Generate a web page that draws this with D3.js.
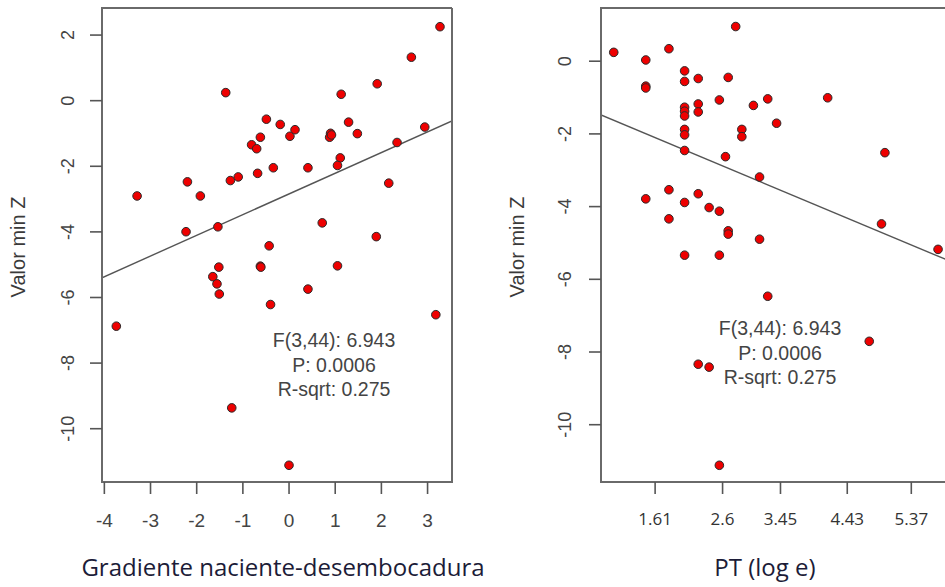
<!DOCTYPE html>
<html>
<head>
  <meta charset="utf-8">
  <title>Valor min Z</title>
  <script type="text/javascript" src="https://cdn.jsdelivr.net/npm/d3@7/dist/d3.min.js"></script>
  <style>
    body { margin: 0; background: #fff; }
  </style>
</head>
<body>
  <svg id="chart"></svg>
  <script>
    // data

    // left: gradiente naciente-desembocadura vs valor min Z
    var gradX = [-3.28, -2.19, -2.22, -1.91, -1.36, -1.53, -1.26, -1.09, -1.51, -1.64,
                 -1.55, -1.50, -0.80, -0.69, -0.61, -0.67, -0.48, -0.33, -0.18, 0.03,
                 0.14, 0.42, -0.61, -0.60, -0.42, 0.42, 0.73, 0.91, 0.89, 0.93,
                 1.14, 1.30, 1.49, 1.12, 1.06, 1.06, 1.92, 1.90, 2.17, 2.35,
                 2.66, 2.95, 3.28, -0.39, -3.73, -1.23, 0.01, 3.19];
    var gradZ = [-2.92, -2.49, -4.01, -2.92, 0.23, -3.86, -2.45, -2.34, -5.09, -5.38,
                 -5.60, -5.91, -1.36, -1.48, -1.13, -2.23, -0.58, -2.06, -0.74, -1.10,
                 -0.90, -2.06, -5.06, -5.09, -4.44, -5.76, -3.74, -1.01, -1.13, -1.06,
                 0.18, -0.67, -1.02, -1.76, -1.99, -5.05, 0.50, -4.16, -2.53, -1.29,
                 1.31, -0.82, 2.24, -6.23, -6.89, -9.38, -11.13, -6.54];
    var gradFit = { intercept: -2.865, slope: 0.631 };

    // right: PT (log e) vs valor min Z
    var ptX = [1.01, 1.48, 1.48, 1.48, 1.82, 2.05, 2.05, 2.25, 2.69, 2.80,
               2.05, 2.05, 2.05, 2.25, 2.25, 2.56, 3.06, 3.27, 4.15, 3.40,
               2.05, 2.05, 2.89, 2.89, 2.05, 2.65, 3.15, 4.99, 1.48, 1.82,
               1.82, 2.05, 2.25, 2.41, 2.56, 2.69, 2.69, 3.15, 2.05, 2.56,
               4.94, 5.77, 3.27, 4.76, 2.25, 2.41, 2.56];
    var ptZ = [0.23, 0.02, -0.70, -0.75, 0.33, -0.28, -0.57, -0.49, -0.46, 0.94,
               -1.28, -1.39, -1.52, -1.19, -1.41, -1.08, -1.23, -1.05, -1.02, -1.72,
               -1.89, -2.04, -1.89, -2.09, -2.47, -2.64, -3.20, -2.53, -3.80, -3.55,
               -4.35, -3.90, -3.66, -4.04, -4.14, -4.68, -4.77, -4.91, -5.35, -5.35,
               -4.49, -5.19, -6.48, -7.72, -8.35, -8.43, -11.13];
    var ptFit = { intercept: -0.848, slope: -0.785 };

    var gradTicksX = [-4, -3, -2, -1, 0, 1, 2, 3];
    var ptTicksX = [1.61, 2.6, 3.45, 4.43, 5.37];
    var zTicks = [2, 0, -2, -4, -6, -8, -10];
    var statLines = ["F(3,44): 6.943", "P: 0.0006", "R-sqrt: 0.275"];

    var width = 945, height = 587;
    var svg = d3.select("#chart").attr("width", width).attr("height", height);

    // plain hyphen for negatives, like the original
    function plain(d) { return String(d); }

    function panel(opt) {
      var x = d3.scaleLinear().domain(opt.xDomain).range([opt.left, opt.right]);
      var y = d3.scaleLinear().domain(opt.yDomain).range([482, 8]);
      var g = svg.append("g");

      // regression line, clipped to the box
      var clipId = "clip" + opt.left;
      svg.append("clipPath").attr("id", clipId)
        .append("rect").attr("x", opt.left).attr("y", 8)
        .attr("width", opt.right - opt.left).attr("height", 474);
      var d0 = opt.xDomain[0], d1 = opt.xDomain[1];
      g.append("line")
        .attr("clip-path", "url(#" + clipId + ")")
        .attr("x1", x(d0)).attr("y1", y(opt.fit.intercept + opt.fit.slope * d0))
        .attr("x2", x(d1)).attr("y2", y(opt.fit.intercept + opt.fit.slope * d1))
        .attr("stroke", "#555").attr("stroke-width", 1.4);

      // points
      g.selectAll("circle").data(opt.xs).enter().append("circle")
        .attr("cx", function(d) { return x(d); })
        .attr("cy", function(d, i) { return y(opt.ys[i]); })
        .attr("r", 4.3)
        .attr("fill", "#ee0000")
        .attr("stroke", "#2a2a2a")
        .attr("stroke-width", 1);

      // box
      g.append("path")
        .attr("fill", "none").attr("stroke", "#6a6a6a").attr("stroke-width", 2)
        .attr("d", "M" + opt.right + ",8H" + opt.left + "V482H" + opt.right + (opt.closed ? "V8" : ""));

      // y axis
      var yAxis = g.append("g").attr("transform", "translate(" + opt.left + ",0)")
        .call(d3.axisLeft(y).tickValues(opt.yTicks).tickSize(12).tickFormat(plain));
      yAxis.select(".domain").remove();
      yAxis.selectAll(".tick line").attr("stroke", "#555").attr("stroke-width", 1.6);
      yAxis.selectAll(".tick text")
        .attr("x", null).attr("dy", null)
        .attr("transform", "translate(" + (opt.yLabelX - opt.left) + ",0) rotate(-90)")
        .attr("text-anchor", "middle")
        .attr("dominant-baseline", "central")
        .attr("fill", "#444")
        .style("font-family", "'Liberation Sans', Arial, sans-serif")
        .style("font-size", "18px");

      // x axis
      var xAxis = g.append("g").attr("transform", "translate(0,482)")
        .call(d3.axisBottom(x).tickValues(opt.xTicks).tickSize(12).tickFormat(plain));
      xAxis.select(".domain").remove();
      xAxis.selectAll(".tick line").attr("stroke", "#555").attr("stroke-width", 1.6);
      xAxis.selectAll(".tick text")
        .attr("y", opt.xLabelY).attr("dy", null)
        .attr("fill", opt.xLabelColor)
        .style("font-family", opt.xLabelFont)
        .style("font-size", opt.xLabelSize);

      // axis titles
      svg.append("text")
        .attr("transform", "translate(" + opt.yTitleX + ",247) rotate(-90)")
        .attr("text-anchor", "middle")
        .attr("fill", "#3a3a3a")
        .style("font-family", "'Liberation Sans', Arial, sans-serif")
        .style("font-size", "20px")
        .text("Valor min Z");
      svg.append("text")
        .attr("x", opt.xTitleX).attr("y", 576)
        .attr("text-anchor", "middle")
        .attr("fill", "#1c1c38")
        .style("font-family", "'Open Sans', 'Noto Sans', sans-serif")
        .style("font-size", "24px")
        .text(opt.xTitle);

      // statistics
      var st = svg.append("text")
        .attr("text-anchor", "middle")
        .attr("fill", "#444")
        .style("font-family", "'Liberation Sans', Arial, sans-serif")
        .style("font-size", "19.5px");
      st.selectAll("tspan").data(statLines).enter().append("tspan")
        .attr("x", opt.statX)
        .attr("y", function(d, i) { return opt.statY + i * 24.5; })
        .text(function(d) { return d; });
    }

    panel({
      xs: gradX, ys: gradZ, fit: gradFit,
      xDomain: [-4.04, 3.54], yDomain: [-11.64, 2.81],
      left: 102, right: 452, closed: true,
      xTicks: gradTicksX, yTicks: zTicks,
      xLabelY: 45, xLabelColor: "#444",
      xLabelFont: "'Liberation Sans', Arial, sans-serif", xLabelSize: "19px",
      yLabelX: 68, yTitleX: 25,
      xTitle: "Gradiente naciente-desembocadura", xTitleX: 283,
      statX: 334, statY: 347
    });

    panel({
      xs: ptX, ys: ptZ, fit: ptFit,
      xDomain: [0.823, 5.96], yDomain: [-11.59, 1.45],
      left: 601, right: 951, closed: false,
      xTicks: ptTicksX, yTicks: zTicks.slice(1),
      xLabelY: 43, xLabelColor: "#333",
      xLabelFont: "'Open Sans', 'Noto Sans', sans-serif", xLabelSize: "17px",
      yLabelX: 565, yTitleX: 524,
      xTitle: "PT (log e)", xTitleX: 765,
      statX: 780, statY: 335
    });
  </script>
</body>
</html>
